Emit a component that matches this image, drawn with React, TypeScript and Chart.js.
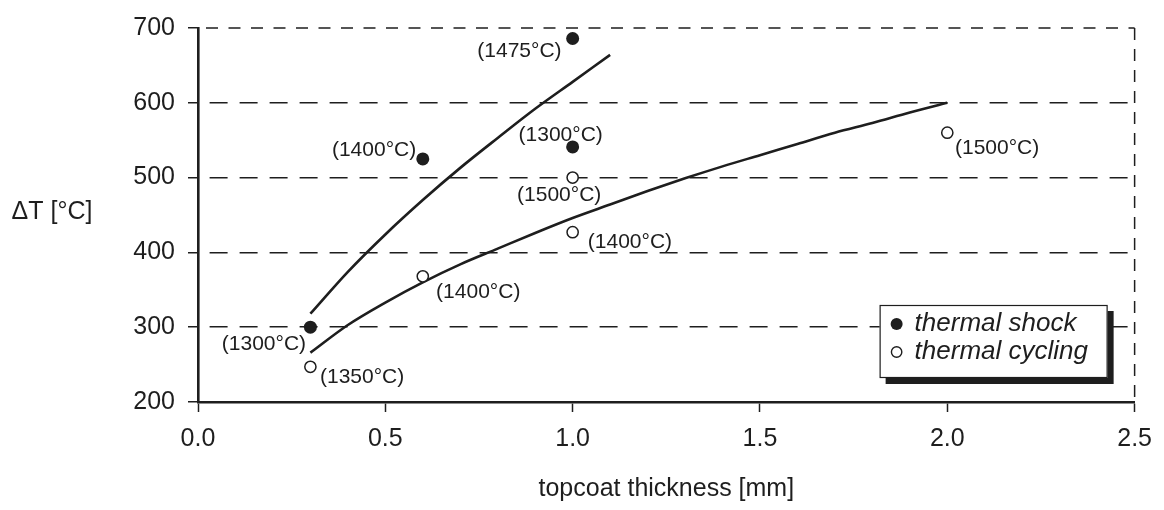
import { useEffect, useRef } from 'react';
import { Chart, registerables } from 'chart.js';

Chart.register(...registerables);

// ---- data ----
const xTicks = [0, 0.5, 1.0, 1.5, 2.0, 2.5];
const yTicks = [200, 300, 400, 500, 600, 700];

const seriesLabels = ['thermal shock', 'thermal cycling'];

const shockX = [0.3, 0.6, 1.0, 1.0];
const shockY = [300, 525, 541, 686];

const cyclingX = [0.3, 0.6, 1.0, 1.0, 2.0];
const cyclingY = [247, 368, 500, 427, 560];

const shockFitX = [0.3, 0.4, 0.5, 0.6, 0.7, 0.8, 0.9, 1.0, 1.1];
const shockFitY = [318, 374, 424, 470, 513, 553, 592, 628, 664];

const cyclingFitX = [0.3, 0.4, 0.5, 0.6, 0.7, 0.8, 0.9, 1.0, 1.1, 1.2, 1.3, 1.4, 1.5, 1.6, 1.7, 1.8, 1.9, 2.0];
const cyclingFitY = [266, 303, 333, 360, 384, 405, 426, 446, 464, 482, 499, 515, 530, 545, 560, 573, 587, 600];

const noteText = ['(1475°C)', '(1400°C)', '(1300°C)', '(1300°C)', '(1500°C)', '(1400°C)', '(1400°C)', '(1350°C)', '(1500°C)'];
const noteX = [0.858, 0.470, 0.968, 0.176, 0.964, 1.153, 0.748, 0.438, 2.133];
const noteY = [669, 537, 557, 277, 476, 414, 347, 233, 539];

const xTitle = 'topcoat thickness [mm]';
const yTitle = 'ΔT [°C]';

// ---- style ----
const INK = '#1e1e1e';
const FONT = '"Liberation Sans", Arial, Helvetica, sans-serif';

const pts = (xs: number[], ys: number[]) => xs.map((x, i) => ({ x, y: ys[i] }));

const decorPlugin = {
  id: 'decor',
  beforeDatasetsDraw(chart: any) {
    const { ctx, chartArea: a } = chart;
    ctx.save();
    ctx.strokeStyle = INK;
    ctx.lineWidth = 1.5;
    ctx.setLineDash([12, 10.5]);
    ctx.lineDashOffset = -8;
    ctx.beginPath();
    ctx.moveTo(a.left, a.top);
    ctx.lineTo(a.right, a.top);
    ctx.stroke();
    ctx.setLineDash([12, 9]);
    ctx.lineDashOffset = 0;
    ctx.beginPath();
    ctx.moveTo(a.right, a.top);
    ctx.lineTo(a.right, a.bottom);
    ctx.stroke();
    ctx.restore();
  },
  afterDatasetsDraw(chart: any) {
    const { ctx } = chart;
    const xs = chart.scales.x;
    const ys = chart.scales.y;
    ctx.save();
    ctx.fillStyle = INK;
    ctx.font = `21px ${FONT}`;
    ctx.textAlign = 'center';
    ctx.textBaseline = 'middle';
    noteText.forEach((t, i) => {
      ctx.fillText(t, xs.getPixelForValue(noteX[i]), ys.getPixelForValue(noteY[i]));
    });
    ctx.restore();
  },
  afterDraw(chart: any) {
    const { ctx, chartArea: a } = chart;
    ctx.save();
    // axis titles
    ctx.fillStyle = INK;
    ctx.font = `25px ${FONT}`;
    ctx.textAlign = 'center';
    ctx.textBaseline = 'middle';
    ctx.fillText(xTitle, (a.left + a.right) / 2, a.bottom + 87);
    ctx.fillText(yTitle, 52, a.top + 184);

    // legend
    const bx = a.right - 255;
    const by = a.bottom - 97;
    const bw = 228;
    const bh = 73;
    ctx.fillStyle = INK;
    ctx.fillRect(bx + 6, by + 6, bw, bh);
    ctx.fillStyle = '#ffffff';
    ctx.fillRect(bx, by, bw, bh);
    ctx.strokeStyle = INK;
    ctx.lineWidth = 1.2;
    ctx.strokeRect(bx + 0.5, by + 0.5, bw - 1, bh - 1);

    ctx.font = `italic 26px ${FONT}`;
    ctx.textAlign = 'left';
    ctx.textBaseline = 'middle';
    const rows = [by + 19, by + 47];
    // filled
    ctx.fillStyle = INK;
    ctx.beginPath();
    ctx.arc(bx + 17, rows[0], 6, 0, Math.PI * 2);
    ctx.fill();
    ctx.fillText(seriesLabels[0], bx + 35, rows[0]);
    // open
    ctx.beginPath();
    ctx.arc(bx + 17, rows[1], 5.2, 0, Math.PI * 2);
    ctx.fillStyle = '#ffffff';
    ctx.fill();
    ctx.lineWidth = 1.4;
    ctx.strokeStyle = INK;
    ctx.stroke();
    ctx.fillStyle = INK;
    ctx.fillText(seriesLabels[1], bx + 35, rows[1]);
    ctx.restore();
  },
};

export default function App() {
  const ref = useRef<HTMLCanvasElement | null>(null);

  useEffect(() => {
    if (!ref.current) return;
    const chart = new Chart(ref.current, {
      type: 'scatter',
      data: {
        datasets: [
          {
            label: seriesLabels[0],
            data: pts(shockX, shockY),
            pointRadius: 6.5,
            pointBackgroundColor: INK,
            pointBorderColor: INK,
            pointBorderWidth: 0,
            showLine: false,
            order: 0,
          },
          {
            label: seriesLabels[1],
            data: pts(cyclingX, cyclingY),
            pointRadius: 5.6,
            pointBackgroundColor: '#ffffff',
            pointBorderColor: INK,
            pointBorderWidth: 1.5,
            showLine: false,
            order: 0,
          },
          {
            label: 'shock fit',
            data: pts(shockFitX, shockFitY),
            showLine: true,
            pointRadius: 0,
            borderColor: INK,
            borderWidth: 2.6,
            cubicInterpolationMode: 'monotone',
            order: 1,
          },
          {
            label: 'cycling fit',
            data: pts(cyclingFitX, cyclingFitY),
            showLine: true,
            pointRadius: 0,
            borderColor: INK,
            borderWidth: 2.6,
            cubicInterpolationMode: 'monotone',
            order: 1,
          },
        ],
      },
      options: {
        animation: false,
        responsive: false,
        events: [],
        layout: { autoPadding: false, padding: { left: 0, top: 23, right: 27, bottom: 0 } },
        plugins: { legend: { display: false }, tooltip: { enabled: false }, title: { display: false } },
        scales: {
          x: {
            type: 'linear',
            min: 0,
            max: 2.5,
            afterBuildTicks: (s: any) => {
              s.ticks = xTicks.map((v) => ({ value: v }));
            },
            afterFit: (s: any) => {
              s.height = 108;
            },
            ticks: {
              color: INK,
              font: { family: FONT, size: 25 },
              padding: 12,
              callback: (v: any) => Number(v).toFixed(1),
            },
            grid: {
              drawOnChartArea: false,
              drawTicks: true,
              tickLength: 10,
              tickColor: INK,
              tickWidth: 1.5,
              color: INK,
            },
            border: { display: true, color: INK, width: 2.6 },
          },
          y: {
            type: 'linear',
            min: 200,
            max: 700,
            afterBuildTicks: (s: any) => {
              s.ticks = yTicks.map((v) => ({ value: v }));
            },
            afterFit: (s: any) => {
              s.width = 198;
            },
            ticks: {
              color: INK,
              font: { family: FONT, size: 25 },
              padding: 13,
            },
            grid: {
              drawOnChartArea: true,
              drawTicks: true,
              tickLength: 10,
              tickColor: INK,
              tickWidth: 1.5,
              tickBorderDash: [],
              lineWidth: 1.5,
              color: (c: any) => (c.tick && (c.tick.value === 700 || c.tick.value === 200) ? 'rgba(0,0,0,0)' : INK),
            },
            border: { display: true, color: INK, width: 2.6, dash: [18, 12], dashOffset: -10 },
          },
        },
      },
      plugins: [decorPlugin],
    } as any);
    return () => chart.destroy();
  }, []);

  return (
    <div style={{ position: 'absolute', left: 0, top: 0, width: 1164, height: 510, background: '#fff' }}>
      <canvas ref={ref} width={1164} height={510} style={{ display: 'block', width: 1164, height: 510 }} />
    </div>
  );
}
